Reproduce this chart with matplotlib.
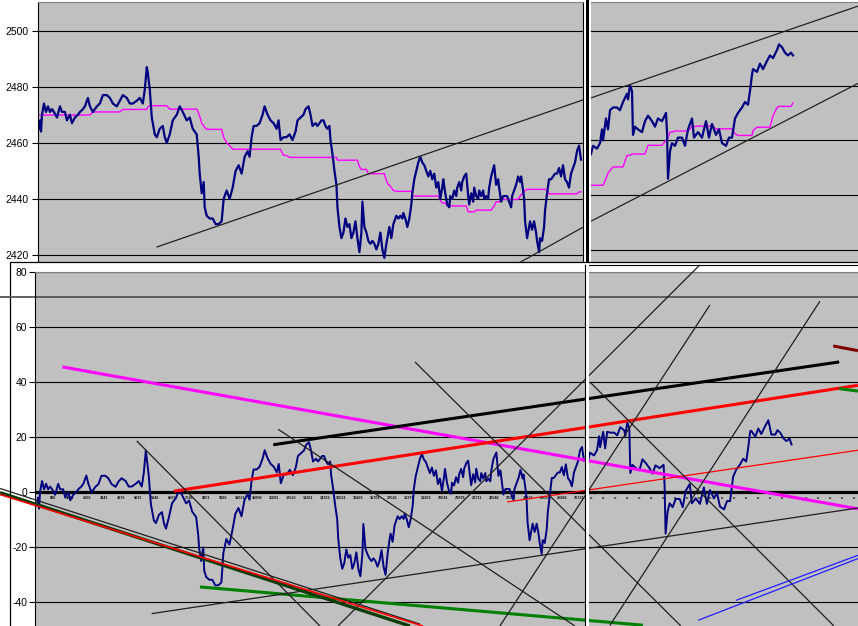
# Excel-style screenshot: price with moving average (top) and price-minus-average oscillator (bottom)
import matplotlib
matplotlib.use("Agg")
import matplotlib.pyplot as plt
import numpy as np
from matplotlib.patches import Rectangle
from matplotlib.lines import Line2D

plt.rcParams['font.family'] = ['Liberation Sans', 'DejaVu Sans']
plt.rcParams['axes.unicode_minus'] = False

# ---------------- data ----------------
# left session: time index, price, moving average
t_left = [
    1, 2, 3, 4, 6, 8, 10, 12, 14, 16, 19, 22, 24, 27, 29, 32, 34, 37, 40, 42, 45, 47, 50, 52,
    55, 59, 62, 65, 69, 72, 75, 79, 82,
    85, 89, 92, 95, 99, 102, 105, 107, 109,
    110,
    112, 114, 117, 119, 122, 125, 127, 129,
    132, 135, 139, 142, 145, 149, 152, 155, 159,
    161, 162, 164, 166, 167,
    169, 172, 175, 178, 181, 184,
    186, 189, 192,
    195, 198, 201, 204, 207, 210, 212, 214, 216, 219, 222, 225, 227, 230, 233, 236, 239, 241, 243,
    246, 249,
    252, 255, 258, 260, 263, 266, 268, 271, 273, 275, 278, 280, 282, 284, 286, 288, 290, 292, 293, 295, 297, 299,
    300, 302, 304, 306, 308, 310, 312, 314, 316, 318, 320,
    322,
    324, 325, 327, 329,
    331, 333, 335, 337, 339, 341, 343, 345, 347,
    349, 351, 352, 354, 356,
    359, 361, 363, 365, 366, 368, 370, 372, 374,
    375, 377, 379, 381, 383, 385, 387, 389, 391, 393, 395, 397, 399, 401,
    403, 405, 406, 408,
    410, 412, 413, 415, 417, 419, 420, 422, 424, 425, 427, 429,
    431, 432, 434, 436, 437,
    439, 441, 442, 444, 446, 447, 449, 451, 452, 454,
    457, 459, 461, 462,
    464, 466, 468, 470, 472, 474, 475, 477, 479, 481,
    483, 484, 486, 487, 488,
    490, 492, 493, 495, 497, 499, 500, 502, 503, 505, 507, 508, 510,
    512, 514, 516, 518, 520, 522, 524, 526, 528, 530, 532, 534, 536, 538, 540,
    542, 544,
]
price_left = [
    2465, 2468, 2464, 2470, 2474, 2471, 2473, 2471, 2472, 2471, 2469, 2473, 2471, 2471, 2468, 2470, 2467, 2469, 2470, 2471, 2472, 2473, 2476, 2473,
    2471, 2473, 2474, 2477, 2477, 2476, 2474, 2473, 2475,
    2477, 2476, 2474, 2474, 2475, 2476, 2474, 2479, 2487,
    2485,
    2479, 2469, 2463, 2462, 2465, 2466, 2462, 2460,
    2463, 2468, 2470, 2473, 2471, 2468, 2469, 2465, 2463,
    2455, 2449, 2442, 2446, 2437,
    2434, 2433, 2433, 2431, 2431, 2432,
    2440, 2443, 2440,
    2444, 2450, 2452, 2449, 2455, 2457, 2455, 2462, 2466, 2466, 2467, 2470, 2473, 2470, 2468, 2467, 2465, 2468, 2461,
    2462, 2462,
    2463, 2461, 2464, 2468, 2469, 2470, 2472, 2473, 2470, 2466, 2467, 2466, 2467, 2468, 2468, 2466, 2465, 2466, 2461, 2456, 2450, 2445,
    2437, 2430, 2426, 2428, 2433, 2430, 2431, 2426, 2428, 2432, 2426,
    2421,
    2428, 2439, 2430, 2428,
    2425, 2424, 2425, 2424, 2422, 2424, 2428, 2422, 2419,
    2424, 2428, 2430, 2426, 2431,
    2434, 2433, 2434, 2433, 2435, 2433, 2430, 2433, 2438,
    2442, 2447, 2450, 2453, 2455, 2453, 2452, 2450, 2448, 2450, 2447, 2449, 2444, 2446,
    2440, 2444, 2447, 2442,
    2438, 2437, 2441, 2440, 2443, 2441, 2444, 2446, 2443, 2446, 2448, 2449,
    2441, 2438, 2442, 2439, 2444,
    2441, 2440, 2443, 2441, 2443, 2440, 2441, 2440, 2444, 2448,
    2452, 2445, 2447, 2444,
    2439, 2441, 2441, 2441, 2439, 2437, 2441, 2443, 2445, 2448,
    2446, 2448, 2443, 2440, 2432,
    2426, 2430, 2432, 2429, 2432, 2428, 2425, 2421, 2426, 2425, 2430, 2436, 2442,
    2447, 2447, 2448, 2449, 2449, 2451, 2448, 2452, 2447, 2446, 2444, 2449, 2451, 2453, 2457,
    2459, 2454,
]
ma_left = [
    2469.9, 2469.9, 2469.9, 2469.9, 2469.9, 2469.9, 2469.9, 2469.9, 2469.9, 2469.9, 2469.9, 2469.9,
    2469.9, 2469.9, 2469.9, 2469.9, 2469.9, 2469.9, 2469.9, 2469.9, 2469.9, 2469.9, 2469.9, 2469.9,
    2471.0, 2471.0, 2471.0, 2471.0, 2471.0, 2471.0, 2471.0, 2471.0, 2471.0,
    2471.9, 2471.9, 2471.9, 2471.9, 2471.9, 2471.9, 2471.9, 2471.9, 2471.9,
    2472.8,
    2473.2, 2473.2, 2473.2, 2473.2, 2473.2, 2473.2, 2473.2, 2473.2,
    2472.0, 2472.0, 2472.0, 2472.0, 2472.0, 2472.0, 2472.0, 2472.0, 2472.0,
    2470.5, 2469.5, 2467.0, 2466.0, 2465.5,
    2464.8, 2464.8, 2464.8, 2464.8, 2464.8, 2464.8,
    2462.0, 2460.0, 2459.0,
    2457.7, 2457.7, 2457.7, 2457.7, 2457.7, 2457.7, 2457.7, 2457.7, 2457.7, 2457.7,
    2457.7, 2457.7, 2457.7, 2457.7, 2457.7, 2457.7, 2457.7, 2457.7, 2457.7,
    2455.5, 2455.5,
    2454.8, 2454.8, 2454.8, 2454.8, 2454.8, 2454.8, 2454.8, 2454.8, 2454.8, 2454.8, 2454.8,
    2454.8, 2454.8, 2454.8, 2454.8, 2454.8, 2454.8, 2454.8, 2454.8, 2454.8, 2454.8, 2454.8,
    2453.8, 2453.8, 2453.8, 2453.8, 2453.8, 2453.8, 2453.8, 2453.8, 2453.8, 2453.8, 2453.8,
    2451.5,
    2450.5, 2450.5, 2450.5, 2450.5,
    2449.0, 2449.0, 2449.0, 2449.0, 2449.0, 2449.0, 2449.0, 2449.0, 2449.0,
    2446.5, 2445.0, 2445.0, 2444.0, 2443.0,
    2442.7, 2442.7, 2442.7, 2442.7, 2442.7, 2442.7, 2442.7, 2442.7, 2442.7,
    2441.0, 2441.0, 2441.0, 2441.0, 2441.0, 2441.0, 2441.0, 2441.0, 2441.0, 2441.0, 2441.0, 2441.0, 2441.0, 2441.0,
    2439.5, 2438.5, 2438.5, 2438.5,
    2437.5, 2437.5, 2437.5, 2437.5, 2437.5, 2437.5, 2437.5, 2437.5, 2437.5, 2437.5, 2437.5, 2437.5,
    2435.4, 2435.4, 2435.4, 2435.4, 2435.4,
    2436.0, 2436.0, 2436.0, 2436.0, 2436.0, 2436.0, 2436.0, 2436.0, 2436.0, 2436.0,
    2437.5, 2439.0, 2439.0, 2439.0,
    2439.8, 2439.8, 2439.8, 2439.8, 2439.8, 2439.8, 2439.8, 2439.8, 2439.8, 2439.8,
    2441.0, 2441.5, 2442.0, 2442.5, 2443.0,
    2443.4, 2443.4, 2443.4, 2443.4, 2443.4, 2443.4, 2443.4, 2443.4, 2443.4, 2443.4, 2443.4, 2443.4, 2443.4,
    2441.8, 2441.8, 2441.8, 2441.8, 2441.8, 2441.8, 2441.8, 2441.8, 2441.8, 2441.8, 2441.8, 2441.8, 2441.8, 2441.8, 2441.8,
    2442.5, 2442.5,
]

# right session
t_right = [548, 550, 554, 557, 559, 560, 563, 565, 567, 570, 574, 577, 580, 584, 585, 587, 589, 590,
           592, 595, 599, 602, 605, 609, 612, 615, 619, 623, 624, 625, 627, 629, 632, 635, 639, 642,
           645, 649, 651, 655, 659, 663, 666, 669, 673, 676, 679, 683, 686, 689, 692, 695, 699, 702,
           705, 707, 709, 710, 714, 717, 720, 724, 727, 730, 734, 736, 739, 742, 745, 748, 750]
price_right = [2455, 2458, 2457, 2459, 2464, 2460, 2468, 2464, 2471, 2472, 2472, 2471, 2474, 2477, 2475, 2480, 2478, 2462,
               2465, 2464, 2463, 2467, 2469, 2467, 2465, 2468, 2467, 2470, 2463, 2446, 2456, 2459, 2458, 2461, 2461, 2458,
               2464, 2468, 2461, 2463, 2461, 2467, 2461, 2466, 2462, 2464, 2459, 2458, 2461, 2461, 2468, 2470, 2472, 2474,
               2473, 2478, 2484, 2486, 2485, 2488, 2486, 2489, 2491, 2490, 2493, 2495, 2494, 2492, 2491, 2492, 2491]
ma_right = [2443.6, 2443.6, 2443.6, 2443.6, 2443.6, 2443.6, 2446.0, 2448.0, 2449.0, 2450.3, 2450.3, 2450.3, 2450.3, 2454.5, 2454.5, 2454.5, 2455.0, 2455.0,
            2455.0, 2455.0, 2455.0, 2455.0, 2458.2, 2458.2, 2458.2, 2458.2, 2458.2, 2460.0, 2460.5, 2461.0, 2463.0, 2463.0, 2463.4, 2463.4, 2463.4, 2463.4,
            2463.4, 2465.0, 2465.0, 2465.2, 2465.2, 2465.2, 2465.2, 2465.2, 2464.2, 2464.2, 2464.2, 2464.2, 2464.2, 2464.2, 2462.4, 2461.8, 2461.8, 2461.8,
            2461.8, 2461.8, 2461.8, 2463.6, 2464.8, 2464.8, 2464.8, 2464.8, 2464.8, 2469.0, 2472.0, 2472.4, 2472.4, 2472.4, 2472.4, 2472.4, 2473.6]

top_ticks = [2420, 2440, 2460, 2480, 2500]
bottom_ticks = [-40, -20, 0, 20, 40, 60, 80]
bar_labels = [836, 1671, 2506, 3341, 4176, 5011, 5846, 6681, 7516, 8351, 9186, 10021, 10856, 11691, 12526, 13361,
              14196, 15031, 15866, 16701, 17536, 18371, 19206, 20041, 20876, 21711, 22546, 23381, 24216, 25051, 25886, 26721]
bars_per_t = 49.55

# trend lines drawn on the charts: [(t0, v0), (t1, v1)]
top_left_upper = [(118.7, 2422.8), (546, 2475.3)]
top_left_lower = [(483, 2417.4), (546, 2429.9)]
top_right_upper = [(548, 2475.5), (815, 2509.0)]
top_right_lower = [(548, 2430.5), (815, 2480.8)]

osc_magenta = [(26.1, 45.6), (815.9, -6.0)]
osc_black_thick = [(235.5, 17.3), (797.3, 47.4)]
osc_red_thick = [(137.0, 0.4), (815.9, 38.9)]
osc_red_thin = [(467.8, -3.5), (815.9, 15.3)]
osc_maroon = [(791.4, 53.2), (815.9, 51.5)]
osc_green_short = [(797.3, 37.7), (815.9, 36.8)]
osc_green_long = [(162.8, -34.4), (602.5, -48.3)]
osc_support = [(114.8, -44.1), (815.9, -5.7)]
osc_edge_black = [(-35.7, 1.4), (381.1, -47.9)]
osc_edge_green = [(-35.7, -0.1), (371.2, -48.6)]
osc_edge_red = [(-35.7, -0.8), (384.1, -48.6)]
osc_down_1 = [(100.0, 18.7), (281.9, -48.6)]
osc_down_2 = [(240.5, 22.9), (535.0, -48.6)]
osc_down_3 = [(376.2, 47.4), (640.2, -48.6)]
osc_down_4 = [(549.9, 40.1), (792.1, -48.6)]
osc_up_1 = [(299.8, -48.6), (659.1, 82.7)]
osc_up_2 = [(460.5, -48.6), (669.0, 68.1)]
osc_up_3 = [(569.7, -48.4), (778.2, 69.5)]
osc_blue_1 = [(694.8, -39.3), (815.9, -22.9)]
osc_blue_2 = [(657.4, -46.5), (815.9, -24.1)]
osc_level = 71.0

# ---------------- layout helpers ----------------
W, H = 858, 626
GRAY = '#c0c0c0'
NAVY = '#000080'
MAG = '#ff00ff'


def box(x0, y0, x1, y1):
    # pixel box (top-left origin) -> figure fraction rect
    return [x0 / W, 1 - y1 / H, (x1 - x0) / W, (y1 - y0) / H]


def seg(ax, line, **kw):
    ax.plot([line[0][0], line[1][0]], [line[0][1], line[1][1]], solid_capstyle='butt', **kw)


fig = plt.figure(figsize=(8.58, 6.26), dpi=100)

# ---------------- top charts ----------------
ax_tl = fig.add_axes(box(38, 2, 583, 262))
ax_tr = fig.add_axes(box(591, 2, 858, 262))

for ax in (ax_tl, ax_tr):
    ax.set_facecolor(GRAY)
    ax.set_yticks(top_ticks)
    ax.yaxis.grid(True, color='black', lw=0.8)
    ax.set_xticks([])
    for s in ax.spines.values():
        s.set_visible(False)

ax_tl.spines['left'].set_visible(True)
ax_tl.spines['left'].set_color('black')
ax_tl.spines['right'].set_visible(True)
ax_tl.spines['right'].set_color('black')
ax_tl.spines['top'].set_visible(True)
ax_tl.spines['top'].set_color('#808080')
ax_tl.tick_params(axis='y', direction='out', length=4, width=0.8, labelsize=7.5, pad=3)
ax_tl.set_xlim(0, 546)
ax_tl.set_ylim(2417.5, 2510.2)

ax_tr.spines['top'].set_visible(True)
ax_tr.spines['top'].set_color('#808080')
ax_tr.tick_params(axis='y', length=0, labelleft=False)
ax_tr.set_xlim(548, 815)
ax_tr.set_ylim(2415.6, 2510.5)

ax_tl.plot(t_left, ma_left, color=MAG, lw=1.0)
ax_tl.plot(t_left, price_left, color=NAVY, lw=1.6)
ax_tr.plot(t_right, ma_right, color=MAG, lw=1.0)
ax_tr.plot(t_right, price_right, color=NAVY, lw=1.6)

for ax, line in ((ax_tl, top_left_upper), (ax_tl, top_left_lower),
                 (ax_tr, top_right_upper), (ax_tr, top_right_lower)):
    seg(ax, line, color='#222222', lw=0.9)

# divider between the two top charts
fig.add_artist(Rectangle((586 / W, 1 - 262 / H), 3 / W, 262 / H, transform=fig.transFigure,
                         facecolor='black', edgecolor='none', zorder=0.5))

# ---------------- bottom chart ----------------
fig.add_artist(Rectangle((10 / W, -0.05), 1.0, (626 - 262) / H + 0.05, transform=fig.transFigure,
                         facecolor='white', edgecolor='black', lw=0.9, zorder=1))
fig.add_artist(Line2D([585 / W, 1.0], [1 - 264.7 / H] * 2, color='black', lw=0.8, zorder=1.1))

ax_b = fig.add_axes(box(35, 272, 858, 626))
ax_b.set_zorder(2)
ax_b.set_facecolor(GRAY)
for s in ax_b.spines.values():
    s.set_visible(False)
ax_b.spines['left'].set_visible(True)
ax_b.spines['left'].set_color('black')
ax_b.spines['top'].set_visible(True)
ax_b.spines['top'].set_color('#808080')
ax_b.set_yticks(bottom_ticks)
ax_b.yaxis.grid(True, color='black', lw=0.8)
ax_b.tick_params(axis='y', direction='out', length=4, width=0.8, labelsize=7.5, pad=1.5)
ax_b.set_xticks([])
ax_b.set_xlim(-1, 816)
ax_b.set_ylim(-48.6, 80.1)

ax_b.axhline(0, color='black', lw=2.3, zorder=2.2)
ax_b.axhline(osc_level, xmin=-0.043, xmax=1, color='#555555', lw=1.3, clip_on=False, zorder=2.1)

osc_left = np.array(price_left) - np.array(ma_left)
osc_right = np.array(price_right) - np.array(ma_right)
ax_b.plot(t_left, osc_left, color=NAVY, lw=1.4, zorder=2.5)
ax_b.plot(t_right, osc_right, color=NAVY, lw=1.4, zorder=2.5)

# tiny bar-number labels along the zero line
for v in bar_labels:
    ax_b.text(v / bars_per_t, -1.2, str(v), fontsize=2.8, fontweight='bold', ha='center', va='top',
              color='#111111', zorder=2.3)
for t in np.arange(551, 816, 11.9):
    ax_b.text(t, -1.2, 'ııı', fontsize=3.2, fontweight='bold', ha='center', va='top',
              color='#111111', zorder=2.3)

thin = dict(color='#1e1e1e', lw=0.9, zorder=3)
thick = dict(lw=2.2, zorder=3)
seg(ax_b, osc_magenta, color=MAG, **thick)
seg(ax_b, osc_black_thick, color='black', **thick)
seg(ax_b, osc_red_thick, color='#ff0000', **thick)
seg(ax_b, osc_maroon, color='#800000', **thick)
seg(ax_b, osc_green_short, color='#008000', **thick)
seg(ax_b, osc_green_long, color='#008000', **thick)
seg(ax_b, osc_red_thin, color='#ff0000', lw=0.9, zorder=3)
seg(ax_b, osc_support, **thin)
for line in (osc_down_1, osc_down_2, osc_down_3, osc_down_4, osc_up_2, osc_up_3):
    seg(ax_b, line, **thin)
seg(ax_b, osc_up_1, clip_on=False, **thin)
seg(ax_b, osc_edge_black, clip_on=False, **thin)
seg(ax_b, osc_edge_green, color='#0b3d0b', lw=2.4, zorder=3, clip_on=False)
seg(ax_b, osc_edge_red, color='#ff0000', lw=1.2, zorder=3.1, clip_on=False)
seg(ax_b, osc_blue_1, color='#2020ff', lw=0.9, zorder=3)
seg(ax_b, osc_blue_2, color='#2020ff', lw=0.9, zorder=3)

# divider between the two bottom sessions
fig.add_artist(Rectangle((585.5 / W, 0), 3.5 / W, (626 - 264) / H, transform=fig.transFigure,
                         facecolor='white', edgecolor='none', zorder=4))
fig.add_artist(Line2D([585 / W] * 2, [0, 1 - 264.7 / H], color='black', lw=0.8, zorder=4))

fig.savefig('out.png', dpi=100)
